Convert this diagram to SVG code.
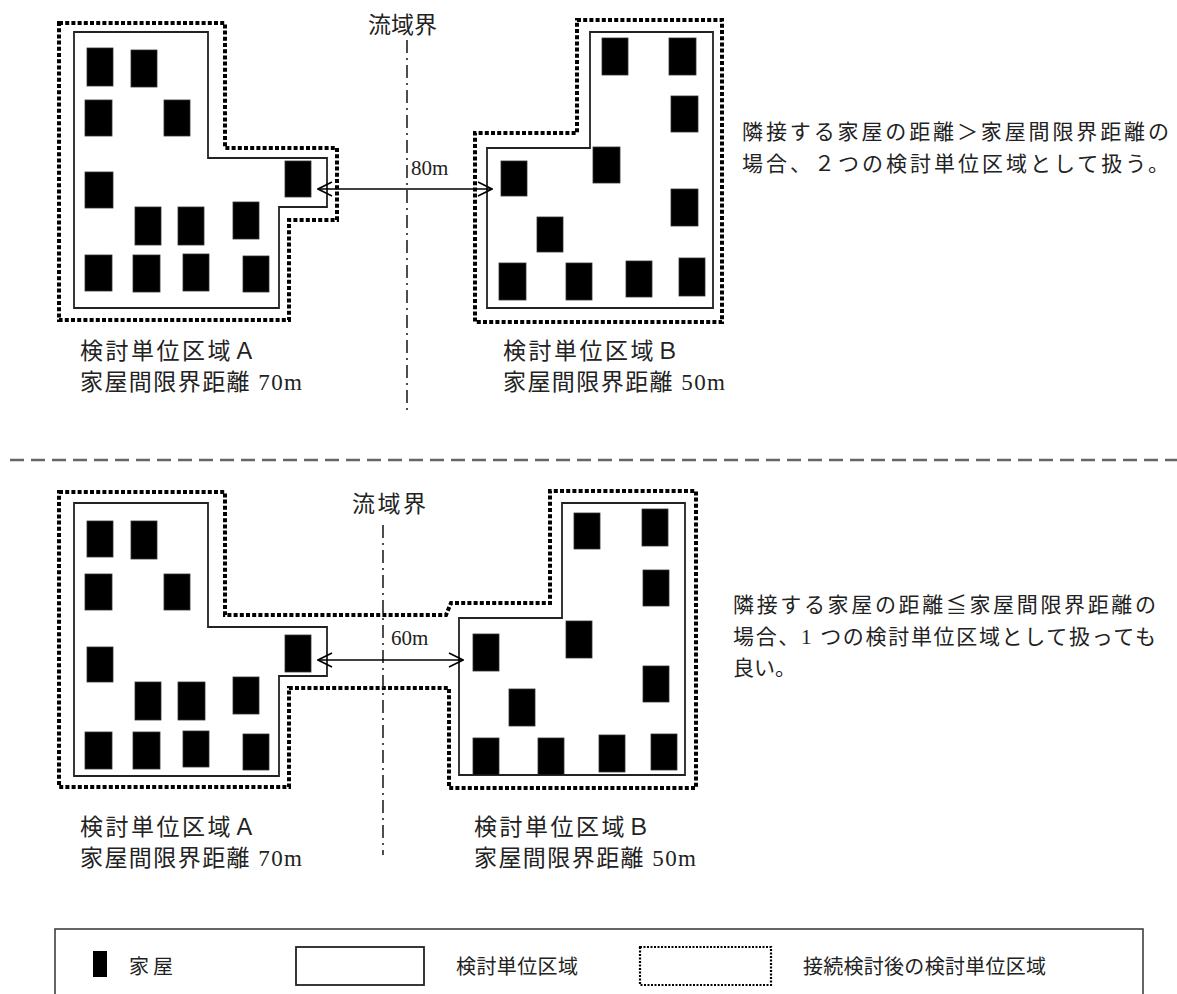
<svg xmlns="http://www.w3.org/2000/svg" width="1177" height="994" viewBox="0 0 1177 994">
<defs>
<style>
.house{fill:#000;stroke:#333;stroke-width:0.8}
.area{fill:none;stroke:#222;stroke-width:1.8}
.merged{fill:none;stroke:#000;stroke-width:4;stroke-dasharray:4 2.2}
.wshed{fill:none;stroke:#222;stroke-width:1.6;stroke-dasharray:13 5 2 5}
.arrow{fill:none;stroke:#000;stroke-width:1.6}
.t{font-family:"Liberation Serif","Noto Sans CJK JP",serif;fill:#222}
.lbl{font-size:23px}
.num{font-size:21px}
.note{font-size:21px}
.leg{font-family:"Noto Sans CJK JP",sans-serif;font-size:20px;fill:#222}
</style>
<marker id="ah" viewBox="0 0 16 16" refX="15" refY="8" markerWidth="16" markerHeight="16" markerUnits="userSpaceOnUse" orient="auto-start-reverse">
<path d="M1,1 L15,8 L1,15" fill="none" stroke="#000" stroke-width="1.6"/>
</marker>
</defs>
<rect width="1177" height="994" fill="#fff"/>

<!-- TOP PANEL -->
<g id="top-areaA">
<polygon class="merged" points="59,23 225,23 225,148 337,148 337,220 289,220 289,320 59,320"/>
<polygon class="area" points="74,32 208,32 208,158 327,158 327,207 279,207 279,308 74,308"/>
<rect class="house" x="87" y="48" width="26" height="38"/>
<rect class="house" x="131" y="50" width="26" height="37"/>
<rect class="house" x="85" y="100" width="27" height="36"/>
<rect class="house" x="164" y="100" width="26" height="36"/>
<rect class="house" x="85" y="172" width="28" height="36"/>
<rect class="house" x="285" y="161" width="26" height="36"/>
<rect class="house" x="135" y="207" width="26" height="38"/>
<rect class="house" x="178" y="207" width="26" height="38"/>
<rect class="house" x="233" y="202" width="26" height="37"/>
<rect class="house" x="85" y="255" width="27" height="36"/>
<rect class="house" x="133" y="255" width="27" height="37"/>
<rect class="house" x="183" y="254" width="26" height="37"/>
<rect class="house" x="243" y="256" width="26" height="36"/>
</g>
<g id="top-areaB">
<polygon class="merged" points="577,20 722,20 722,322 475,322 475,133 577,133"/>
<polygon class="area" points="590,32 713,32 713,308 487,308 487,148 590,148"/>
<rect class="house" x="602" y="38" width="26" height="37"/>
<rect class="house" x="669" y="38" width="27" height="37"/>
<rect class="house" x="671" y="96" width="27" height="36"/>
<rect class="house" x="593" y="147" width="27" height="36"/>
<rect class="house" x="501" y="161" width="26" height="35"/>
<rect class="house" x="671" y="189" width="27" height="37"/>
<rect class="house" x="537" y="217" width="26" height="35"/>
<rect class="house" x="499" y="263" width="27" height="37"/>
<rect class="house" x="566" y="263" width="26" height="37"/>
<rect class="house" x="626" y="261" width="26" height="36"/>
<rect class="house" x="679" y="258" width="26" height="38"/>
</g>
<g id="top-texts">
<text class="t lbl" x="368" y="33">流域界</text>
<text class="t num" x="411" y="175">80m</text>
<text class="t lbl" x="80" y="359" textLength="176" lengthAdjust="spacing">検討単位区域Ａ</text>
<text class="t lbl" x="80" y="390" textLength="222" lengthAdjust="spacing">家屋間限界距離 70m</text>
<text class="t lbl" x="503" y="359" textLength="176" lengthAdjust="spacing">検討単位区域Ｂ</text>
<text class="t lbl" x="503" y="390" textLength="222" lengthAdjust="spacing">家屋間限界距離 50m</text>
<text class="t note" x="742" y="139" textLength="427" lengthAdjust="spacing">隣接する家屋の距離＞家屋間限界距離の</text>
<text class="t note" x="742" y="171" textLength="427" lengthAdjust="spacing">場合、２つの検討単位区域として扱う。</text>
</g>

<!-- divider -->
<line x1="10" y1="460" x2="1177" y2="460" stroke="#666" stroke-width="2.5" stroke-dasharray="14 7"/>

<!-- BOTTOM PANEL -->
<g id="bottom-merged">
<polygon class="merged" points="59,492 225,492 225,615 446,615 451,603 550,603 550,491 696,491 696,788 449,788 449,688 289,688 289,787 59,787"/>
</g>
<g id="bottom-areaA">
<polygon class="area" points="74,503 208,503 208,627 327,627 327,676 279,676 279,776 74,776"/>
<rect class="house" x="87" y="521" width="26" height="36"/>
<rect class="house" x="131" y="521" width="26" height="38"/>
<rect class="house" x="85" y="574" width="27" height="36"/>
<rect class="house" x="164" y="574" width="26" height="36"/>
<rect class="house" x="87" y="647" width="26" height="35"/>
<rect class="house" x="285" y="635" width="26" height="37"/>
<rect class="house" x="135" y="682" width="26" height="38"/>
<rect class="house" x="178" y="682" width="27" height="38"/>
<rect class="house" x="233" y="677" width="26" height="37"/>
<rect class="house" x="85" y="732" width="27" height="37"/>
<rect class="house" x="133" y="732" width="27" height="37"/>
<rect class="house" x="183" y="731" width="26" height="36"/>
<rect class="house" x="243" y="734" width="26" height="36"/>
</g>
<g id="bottom-areaB">
<polygon class="area" points="562,503 685,503 685,775 459,775 459,618 562,618"/>
<rect class="house" x="574" y="513" width="26" height="36"/>
<rect class="house" x="642" y="509" width="26" height="37"/>
<rect class="house" x="643" y="570" width="26" height="36"/>
<rect class="house" x="566" y="621" width="26" height="37"/>
<rect class="house" x="473" y="634" width="26" height="37"/>
<rect class="house" x="643" y="666" width="26" height="36"/>
<rect class="house" x="509" y="689" width="26" height="37"/>
<rect class="house" x="473" y="738" width="26" height="37"/>
<rect class="house" x="538" y="738" width="26" height="37"/>
<rect class="house" x="599" y="735" width="26" height="37"/>
<rect class="house" x="651" y="734" width="26" height="36"/>
</g>
<g id="bottom-texts">
<text class="t lbl" x="352" y="512" textLength="74" lengthAdjust="spacing">流域界</text>
<text class="t num" x="391" y="645">60m</text>
<text class="t lbl" x="80" y="835" textLength="176" lengthAdjust="spacing">検討単位区域Ａ</text>
<text class="t lbl" x="80" y="866" textLength="222" lengthAdjust="spacing">家屋間限界距離 70m</text>
<text class="t lbl" x="474" y="835" textLength="176" lengthAdjust="spacing">検討単位区域Ｂ</text>
<text class="t lbl" x="474" y="866" textLength="222" lengthAdjust="spacing">家屋間限界距離 50m</text>
<text class="t note" x="733" y="612" textLength="423" lengthAdjust="spacing">隣接する家屋の距離≦家屋間限界距離の</text>
<text class="t note" x="733" y="644" textLength="423" lengthAdjust="spacing">場合、1 つの検討単位区域として扱っても</text>
<text class="t note" x="733" y="675">良い。</text>
</g>

<!-- connectors -->
<g id="connectors">
<line class="wshed" x1="407" y1="40" x2="407" y2="412"/>
<line class="wshed" x1="383" y1="525" x2="383" y2="855"/>
<line class="arrow" x1="318" y1="189" x2="492" y2="189" marker-start="url(#ah)" marker-end="url(#ah)"/>
<line class="arrow" x1="318" y1="660" x2="463" y2="660" marker-start="url(#ah)" marker-end="url(#ah)"/>
</g>

<!-- LEGEND -->
<g id="legend">
<path d="M55,994 L55,929 L1143,929 L1143,994" fill="none" stroke="#333" stroke-width="1.5"/>
<rect x="93" y="951" width="14" height="26" fill="#000"/>
<text class="leg" x="129" y="974" textLength="44" lengthAdjust="spacing">家屋</text>
<rect x="296" y="947" width="128" height="38" fill="none" stroke="#222" stroke-width="1.8"/>
<text class="leg" x="456" y="974" textLength="122" lengthAdjust="spacing">検討単位区域</text>
<rect x="640" y="947" width="131" height="38" fill="none" stroke="#000" stroke-width="2.2" stroke-dasharray="2 1.5"/>
<text class="leg" x="803" y="974" textLength="243" lengthAdjust="spacing">接続検討後の検討単位区域</text>
</g>
</svg>
